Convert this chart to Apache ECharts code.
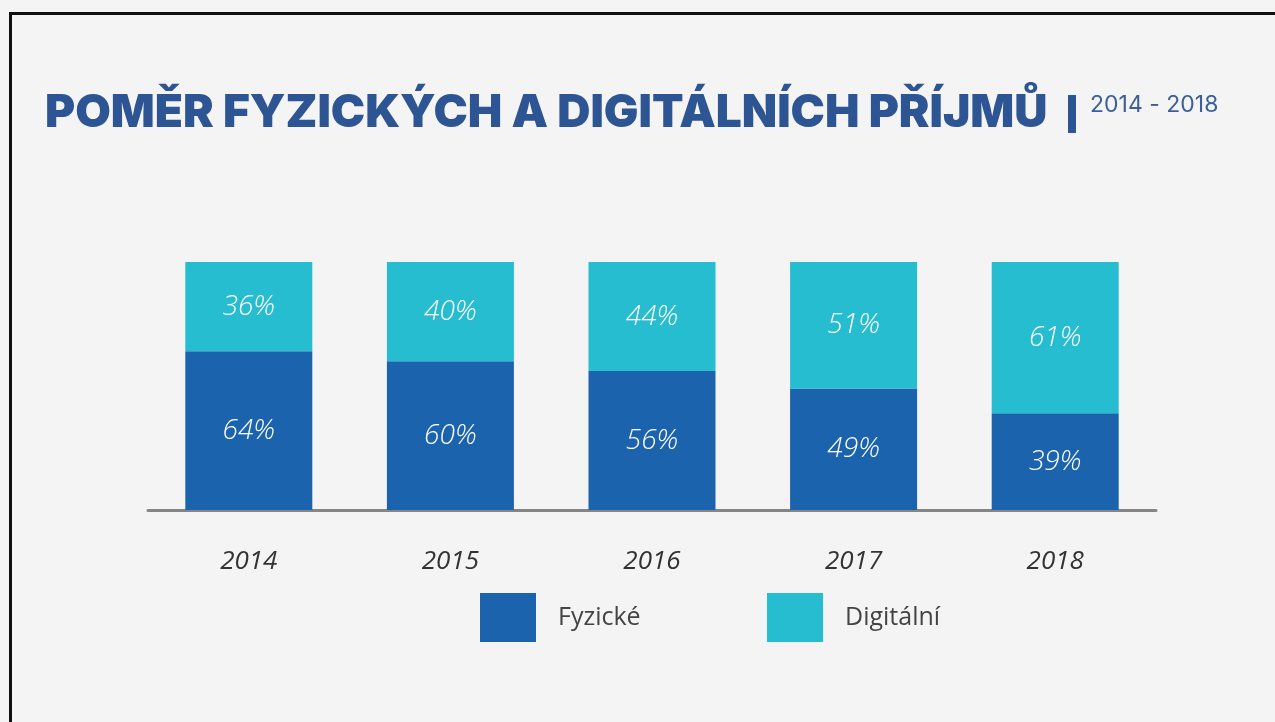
<!DOCTYPE html>
<html>
<head>
<meta charset="utf-8">
<script src="https://cdn.jsdelivr.net/npm/echarts@6/dist/echarts.min.js"></script>
<style>
  html, body { margin: 0; padding: 0; background: #f4f4f4; }
  #chart { width: 1275px; height: 722px; }
</style>
</head>
<body>
<div id="chart"></div>
<script>
// Years on the category axis
const years = ['2014', '2015', '2016', '2017', '2018'];
// Share of physical revenue, %
const fyzicke = [64, 60, 56, 49, 39];
// Share of digital revenue, %
const digitalni = [36, 40, 44, 51, 61];
const seriesNames = ['Fyzické', 'Digitální'];
const titleText = 'POMĚR FYZICKÝCH A DIGITÁLNÍCH PŘÍJMŮ';
const periodText = '2014 - 2018';

const DARK = '#1b63ad';
const CYAN = '#27bdd1';
const TITLE_BLUE = '#2d5593';

const chart = echarts.init(document.getElementById('chart'), null, { renderer: 'canvas' });

const labelStyle = {
  show: true,
  position: 'inside',
  color: '#ffffff',
  fontStyle: 'italic',
  fontWeight: 300,
  fontFamily: '"Open Sans", sans-serif',
  fontSize: 28,
  formatter: '{c}%'
};

const legendBase = {
  top: 593,
  padding: 0,
  itemWidth: 56,
  itemHeight: 49,
  icon: 'rect',
  textStyle: { color: '#444444', fontSize: 25, fontFamily: '"Open Sans", sans-serif', padding: [0, 0, 0, 17] }
};

chart.setOption({
  backgroundColor: '#f4f4f4',
  animation: false,
  grid: { left: 148, width: 1008, top: 262, bottom: 212, containLabel: false },
  xAxis: {
    type: 'category',
    data: years,
    axisTick: { show: false },
    axisLine: { show: true, lineStyle: { color: '#858585', width: 3 } },
    axisLabel: {
      color: '#333333',
      fontStyle: 'italic',
      fontFamily: '"Open Sans", sans-serif',
      fontSize: 26,
      margin: 39
    }
  },
  yAxis: {
    type: 'value',
    min: 0,
    max: 100,
    show: false,
    splitLine: { show: false }
  },
  legend: [
    Object.assign({}, legendBase, { data: [seriesNames[0]], left: 480 }),
    Object.assign({}, legendBase, { data: [seriesNames[1]], left: 767 })
  ],
  series: [
    {
      name: seriesNames[0],
      type: 'bar',
      stack: 'total',
      barWidth: 127,
      data: fyzicke,
      itemStyle: { color: DARK },
      label: labelStyle
    },
    {
      name: seriesNames[1],
      type: 'bar',
      stack: 'total',
      barWidth: 127,
      data: digitalni,
      itemStyle: { color: CYAN },
      label: labelStyle
    }
  ],
  graphic: [
    // frame lines along the top and left edges
    { type: 'rect', left: 9, top: 12, shape: { width: 1266, height: 3 }, style: { fill: '#111111' }, silent: true },
    { type: 'rect', left: 9, top: 12, shape: { width: 3, height: 710 }, style: { fill: '#111111' }, silent: true },
    {
      type: 'text', left: 45, top: 90,
      style: {
        text: titleText,
        fill: TITLE_BLUE,
        font: '900 46px Inter, "Noto Sans", sans-serif'
      }
    },
    { type: 'rect', left: 1068, top: 95, shape: { width: 8, height: 38 }, style: { fill: TITLE_BLUE } },
    {
      type: 'text', left: 1090, top: 94,
      style: {
        text: periodText,
        fill: '#3c5f99',
        font: '400 23px Inter, "Noto Sans", sans-serif'
      }
    }
  ]
});
</script>
</body>
</html>
